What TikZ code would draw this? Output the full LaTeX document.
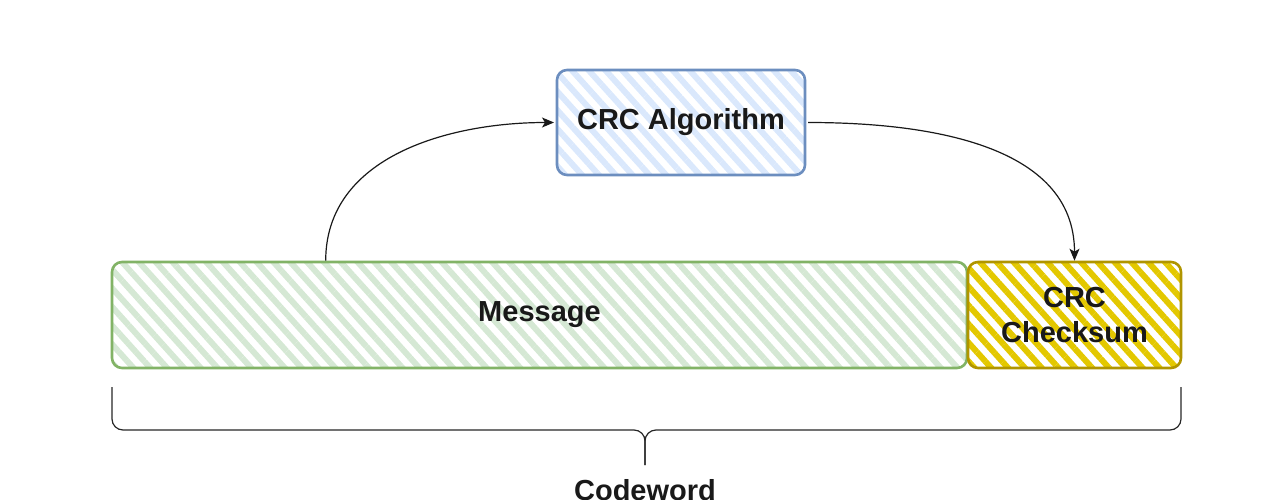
\documentclass[tikz,border=0pt]{standalone}
\usepackage{fontspec}
\setmainfont{Liberation Sans}
\usetikzlibrary{arrows.meta,patterns.meta}
\definecolor{grnfill}{HTML}{D5E8D4}
\definecolor{grnline}{HTML}{82B366}
\definecolor{blufill}{HTML}{DAE8FC}
\definecolor{bluline}{HTML}{6C8EBF}
\definecolor{ylwfill}{HTML}{E3C800}
\definecolor{ylwline}{HTML}{B09500}
\tikzset{
  >={Stealth[length=12pt,width=10pt,inset=3pt]},
  blk/.style={rectangle,rounded corners=10pt,line width=2.6pt,inner sep=0pt,align=center,
    font=\fontsize{29}{35}\selectfont\bfseries,text=black!90},
  hatch/.style={pattern={Lines[angle=-48,distance=12.5pt,line width=6pt]},pattern color=#1},
  flow/.style={->,line width=1.2pt,draw=black!90},
  brc/.style={line width=1.2pt,rounded corners=11pt,draw=black!85},
}
\begin{document}
\begin{tikzpicture}[x=1pt,y=-1pt]
\useasboundingbox (0,0) rectangle (1277,500);
\node[blk,draw=bluline,hatch=blufill,minimum width=248pt,minimum height=105pt] (algo) at (681,122.5){CRC Algorithm};
\node[blk,draw=grnline,hatch=grnfill,minimum width=855pt,minimum height=106pt] (msg) at (539.5,315){Message};
\node[blk,draw=ylwline,hatch=ylwfill,minimum width=213pt,minimum height=106pt] (chk) at (1074.5,315){CRC\\Checksum};
% arrows
\draw[flow] ([xshift=215pt]msg.north west) to[out=90,in=180] (algo.west);
\draw[flow] (algo.east) to[out=0,in=90] (chk.north);
% brace under the codeword
\coordinate (bl) at (112,387); \coordinate (br) at (1181,387);
\coordinate (bm) at (645,430); \coordinate (bt) at (645,465);
\draw[brc] (bl) |- (bm) -- (bt);
\draw[brc] (br) |- (bm) -- (bt);
\node[font=\fontsize{29}{32}\selectfont\bfseries,text=black!90] (cw) at (645,490){Codeword};
\end{tikzpicture}
\end{document}
